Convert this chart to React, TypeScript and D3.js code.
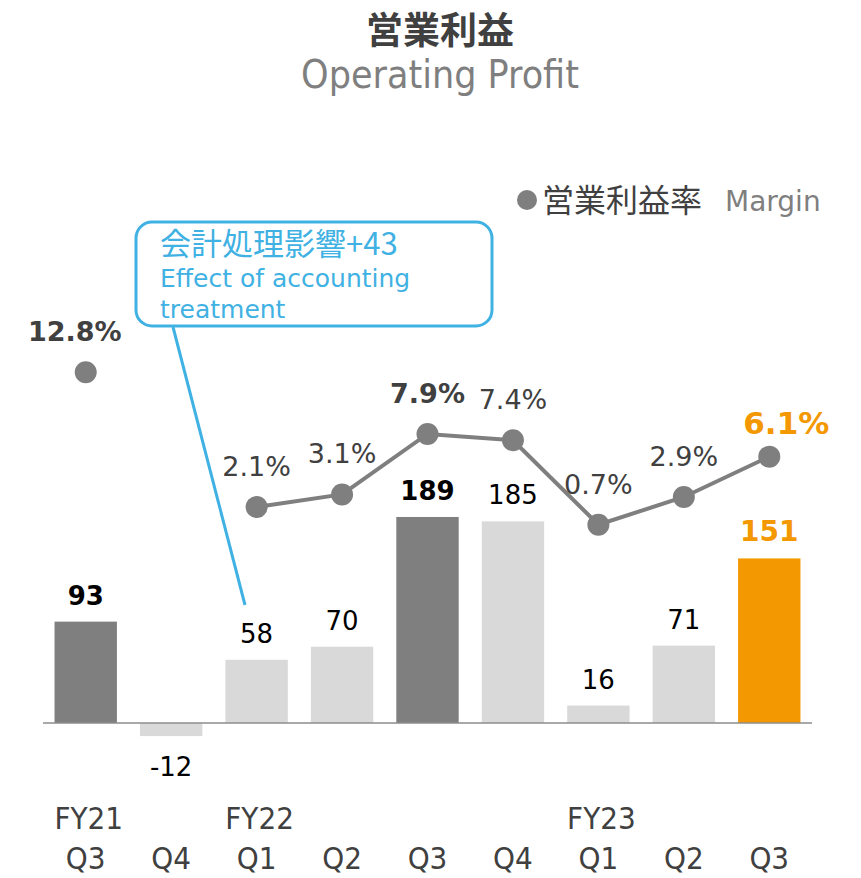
import * as d3 from 'd3'

const quarters = ['Q3', 'Q4', 'Q1', 'Q2', 'Q3', 'Q4', 'Q1', 'Q2', 'Q3']
const fiscalYears = ['FY21', '', 'FY22', '', '', '', 'FY23', '', '']
const profit = [93, -12, 58, 70, 189, 185, 16, 71, 151]
const margin: (number | null)[] = [12.8, null, 2.1, 3.1, 7.9, 7.4, 0.7, 2.9, 6.1]
const barKind = ['prev', 'other', 'other', 'other', 'prev', 'other', 'other', 'other', 'current']

const W = 861
const H = 878
const FONT = '"DejaVu Sans", Verdana, "Noto Sans CJK JP", sans-serif'
const NARROW = '"DejaVu Sans Condensed", "Liberation Sans Narrow", "DejaVu Sans", sans-serif'
const JP = '"Noto Sans CJK JP", "DejaVu Sans", sans-serif'
const ORANGE = '#f39800'
const GRAY = '#7f7f7f'
const LIGHT = '#d9d9d9'
const BLUE = '#3fb1e3'

export default function App() {
  const ids = quarters.map((q, i) => String(i))
  const x = d3.scaleBand<string>().domain(ids).range([43, 812]).paddingInner(0.27).paddingOuter(0.135)
  const y = d3.scaleLinear().domain([0, 200]).range([723, 505])
  const ym = d3.scaleLinear().domain([0, 10]).range([533.5, 407.5])
  const cx = (i: number) => (x(String(i)) ?? 0) + x.bandwidth() / 2

  const line = d3
    .line<number | null>()
    .defined(d => d !== null)
    .x((_, i) => cx(i))
    .y(d => ym(d as number))

  const barFill = (k: string) => (k === 'prev' ? GRAY : k === 'current' ? ORANGE : LIGHT)

  return (
    <svg width={W} height={H} style={{ position: 'absolute', left: 0, top: 0 }}>
      <text x={440} y={44} textAnchor="middle" fontFamily={JP} fontWeight="bold" fontSize={37} fill="#404040">
        営業利益
      </text>
      <text x={440} y={88} textAnchor="middle" fontFamily={NARROW} fontSize={39} fill={GRAY}>
        Operating Profit
      </text>

      {/* legend */}
      <circle cx={527} cy={200} r={10} fill={GRAY} />
      <text x={542} y={212} fontFamily={JP} fontSize={32} fill="#404040">
        営業利益率
      </text>
      <text x={725} y={211} fontFamily={FONT} fontSize={28} fill={GRAY}>
        Margin
      </text>

      {/* bars */}
      {profit.map((v, i) => (
        <rect
          key={'b' + i}
          x={x(String(i))}
          y={Math.min(y(v), y(0))}
          width={x.bandwidth()}
          height={Math.abs(y(v) - y(0))}
          fill={barFill(barKind[i])}
        />
      ))}
      <line x1={43} x2={812} y1={y(0)} y2={y(0)} stroke="#8c8c8c" strokeWidth={1.5} />

      {profit.map((v, i) => {
        const k = barKind[i]
        const bold = k !== 'other'
        const yy = v >= 0 ? y(v) - 17 : y(v) + 40
        return (
          <text
            key={'bl' + i}
            x={cx(i)}
            y={yy}
            textAnchor="middle"
            fontFamily={FONT}
            fontSize={k === 'current' ? 28 : 26}
            fontWeight={bold ? 'bold' : 'normal'}
            fill={k === 'current' ? ORANGE : '#000'}
          >
            {v}
          </text>
        )
      })}

      {/* margin line */}
      <path d={line(margin) ?? ''} fill="none" stroke={GRAY} strokeWidth={4} />
      {margin.map((m, i) =>
        m === null ? null : <circle key={'m' + i} cx={cx(i)} cy={ym(m)} r={11} fill={GRAY} />
      )}
      {margin.map((m, i) => {
        if (m === null) return null
        const k = barKind[i]
        const cur = k === 'current'
        const dx = cur ? 17 : i === 0 ? -11 : 0
        return (
          <text
            key={'ml' + i}
            x={cx(i) + dx}
            y={ym(m) - (cur ? 23 : 31)}
            textAnchor="middle"
            fontFamily={FONT}
            fontSize={cur ? 31 : 27}
            fontWeight={k !== 'other' ? 'bold' : 'normal'}
            fill={cur ? ORANGE : '#404040'}
          >
            {m.toFixed(1)}%
          </text>
        )
      })}

      {/* callout */}
      <line x1={173} y1={327} x2={245} y2={605} stroke={BLUE} strokeWidth={3} />
      <rect x={136} y={222} width={356} height={104} rx={16} fill="#fff" stroke={BLUE} strokeWidth={3} />
      <text x={160} y={255} fontFamily={JP} fontSize={31} fill={BLUE}>
        会計処理影響+43
      </text>
      <text x={160} y={287} fontFamily={FONT} fontSize={25} fill={BLUE}>
        Effect of accounting
      </text>
      <text x={160} y={318} fontFamily={FONT} fontSize={25} fill={BLUE}>
        treatment
      </text>

      {/* x labels */}
      {quarters.map((q, i) => (
        <g key={'x' + i}>
          {fiscalYears[i] && (
            <text x={cx(i) + 3} y={829} textAnchor="middle" fontFamily={NARROW} fontSize={31} fill="#404040">
              {fiscalYears[i]}
            </text>
          )}
          <text x={cx(i)} y={869} textAnchor="middle" fontFamily={NARROW} fontSize={31} fill="#404040">
            {q}
          </text>
        </g>
      ))}
    </svg>
  )
}
